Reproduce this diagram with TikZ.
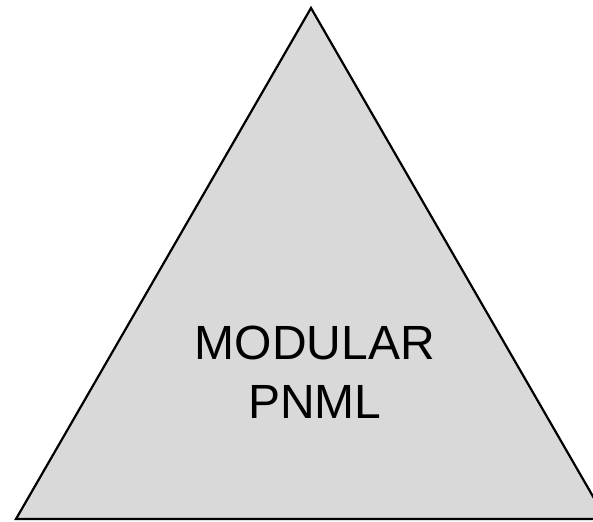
\documentclass[tikz,border=0pt]{standalone}
\usepackage{fontspec}
\setmainfont{Liberation Sans}
\tikzset{
  block/.style={draw=black, fill=black!15, line width=2.2pt, line join=miter},
  label/.style={align=center, font=\fontsize{48}{59}\selectfont, inner sep=0pt},
}
\begin{document}
\begin{tikzpicture}[x=1pt, y=-1pt]
  \useasboundingbox (0,0) rectangle (593,521);
  \clip (0,0) rectangle (593,521);
  % triangle
  \draw[block] (311,8) -- (16,519) -- (606,519) -- cycle;
  % text
  \node[label, anchor=base] (title) at (315,418) {MODULAR\\PNML};
\end{tikzpicture}
\end{document}
